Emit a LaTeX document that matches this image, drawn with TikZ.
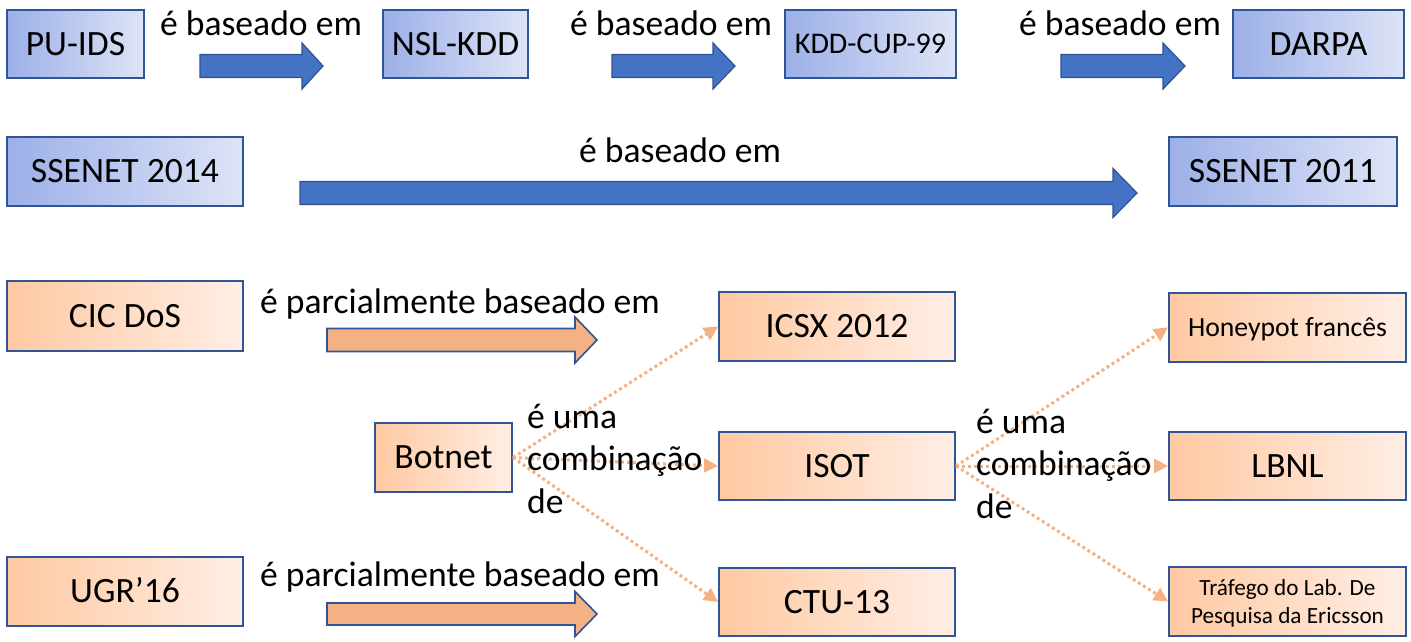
\documentclass[tikz,border=0pt]{standalone}
\usepackage{fontspec}
\setmainfont{Carlito}
\usetikzlibrary{arrows.meta,calc}
\definecolor{bord}{HTML}{2F5597}
\definecolor{arrblue}{HTML}{4472C4}
\definecolor{arrblueline}{HTML}{2F528F}
\definecolor{orng}{HTML}{F4B183}
\definecolor{bl1}{HTML}{9CB0E8}
\definecolor{bl2}{HTML}{DEE4F7}
\definecolor{or1}{HTML}{FFC9A2}
\definecolor{or2}{HTML}{FFEEE5}
\newcommand\blockarr[7]{%
  \draw[#1] (#2,#5-#6) -- (#3,#5-#6) -- (#3,#5-#7) -- (#4,#5) -- (#3,#5+#7) -- (#3,#5+#6) -- (#2,#5+#6) -- cycle;}
\tikzset{
  bigtxt/.style={font=\fontsize{35.6}{42.7}\selectfont},
  boxbase/.style={draw=bord, line width=2pt, inner sep=0pt},
  onel/.style={text height=22.9pt, text depth=0pt},
  bluebox/.style={boxbase, onel, bigtxt, left color=bl1, right color=bl2},
  orbox/.style={boxbase, onel, bigtxt, left color=or1, right color=or2},
  lbl/.style={bigtxt, inner sep=0pt},
  bluearrow/.style={fill=arrblue, draw=arrblueline, line width=1.2pt},
  orarrow/.style={fill=orng, draw=bord, line width=1.6pt},
  dotconn/.style={draw=orng, line width=3pt, dash pattern=on 3pt off 3pt,
     -{Triangle[length=14pt,width=14pt,fill=orng]}},
}
\begin{document}
\begin{tikzpicture}[x=1pt,y=-1pt]
\useasboundingbox (0,0) rectangle (1411,642);
% row 1
\node[bluebox, minimum width=137pt, minimum height=68pt] (puids) at (75.5,44) {PU-IDS};
\node[bluebox, minimum width=145pt, minimum height=68pt] (nslkdd) at (455.5,44) {NSL-KDD};
\node[bluebox, minimum width=171pt, minimum height=68pt, font=\fontsize{30}{36}\selectfont, text height=19.3pt] (kdd) at (870.5,44) {KDD-CUP-99};
\node[bluebox, minimum width=171pt, minimum height=68pt] (darpa) at (1318.5,44) {DARPA};
\node[lbl, anchor=base] (l1) at (261,36) {é baseado em};
\node[lbl, anchor=base] (l2) at (671,36) {é baseado em};
\node[lbl, anchor=base] (l3) at (1120,36) {é baseado em};
\blockarr{bluearrow}{200}{302}{323}{66}{11.5}{23}
\blockarr{bluearrow}{612}{713}{735}{66}{11.5}{23}
\blockarr{bluearrow}{1061}{1163}{1185}{66}{11.5}{23}
% row 2
\node[bluebox, minimum width=236pt, minimum height=69pt] (ss14) at (125,171.5) {SSENET 2014};
\node[bluebox, minimum width=228pt, minimum height=69pt] (ss11) at (1283,171.5) {SSENET 2011};
\node[lbl, anchor=base] (l4) at (680,162) {é baseado em};
\blockarr{bluearrow}{300}{1113}{1137}{193}{11.5}{24.5}
% orange rows
\node[orbox, minimum width=236pt, minimum height=70pt] (cic) at (125,316) {CIC DoS};
\node[orbox, minimum width=236pt, minimum height=69pt] (icsx) at (837,326.5) {ICSX 2012};
\node[orbox, minimum width=237pt, minimum height=69pt, font=\fontsize{27.7}{33}\selectfont, text height=17.8pt] (honey) at (1287.5,327.5) {Honeypot francês};
\node[orbox, minimum width=137pt, minimum height=69pt] (botnet) at (443.5,457.5) {Botnet};
\node[orbox, minimum width=236pt, minimum height=68pt] (isot) at (837,466) {ISOT};
\node[orbox, minimum width=237pt, minimum height=68pt] (lbnl) at (1287.5,466) {LBNL};
\node[orbox, minimum width=236pt, minimum height=69pt] (ugr) at (125,591.5) {UGR’16};
\node[orbox, minimum width=236pt, minimum height=68pt] (ctu) at (837,602) {CTU-13};
\node[boxbase, left color=or1, right color=or2, minimum width=237pt, minimum height=69pt,
      font=\fontsize{23.2}{28}\selectfont, text height=15pt, text depth=28pt] (traf) at (1287.5,601.5)
      {\begin{tabular}[t]{@{}c@{}}Tráfego do Lab. De\\Pesquisa da Ericsson\end{tabular}};
\node[lbl, anchor=base] (l5) at (460,313) {é parcialmente baseado em};
\node[lbl, anchor=base] (l6) at (460,586) {é parcialmente baseado em};
\blockarr{orarrow}{327}{575}{597}{340}{11.5}{23}
\blockarr{orarrow}{327}{575}{597}{614}{11}{22.5}
% dotted connectors
\draw[dotconn] (botnet.east) -- (icsx.west);
\draw[dotconn] (botnet.east) -- (isot.west);
\draw[dotconn] (botnet.east) -- (ctu.west);
\draw[dotconn] (isot.east) -- (honey.west);
\draw[dotconn] (isot.east) -- (lbnl.west);
\draw[dotconn] (isot.east) -- (traf.west);
\node[lbl, anchor=base west] (c1) at (527,428) {\begin{tabular}[t]{@{}l@{}}é uma\\combinação\\de\end{tabular}};
\node[lbl, anchor=base west] (c2) at (976,433) {\begin{tabular}[t]{@{}l@{}}é uma\\combinação\\de\end{tabular}};
\end{tikzpicture}
\end{document}
